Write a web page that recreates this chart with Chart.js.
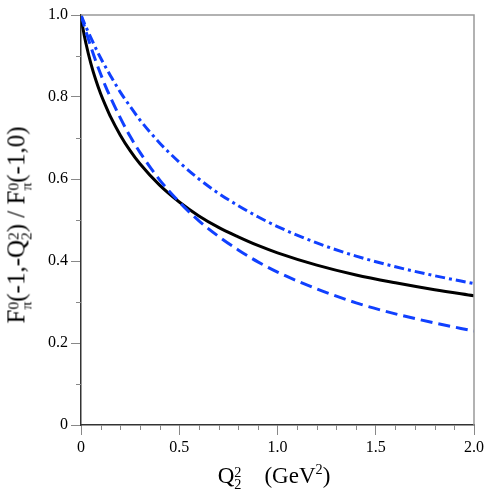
<!DOCTYPE html>
<html>
<head>
<meta charset="utf-8">
<script src="https://cdn.jsdelivr.net/npm/chart.js@4.4.0/dist/chart.umd.min.js"></script>
<style>
    body { margin: 0; background: #fff; }
    #wrap { position: relative; width: 499px; height: 499px; }
    .title { position: absolute; font-family: "Liberation Serif", "DejaVu Serif", serif; font-size: 23px; color: #000; white-space: nowrap; line-height: 1; }
    #ytitle { left: 18px; top: 225px; font-size: 25px; transform: translate(-50%, -50%) rotate(-90deg); }
    #xtitle { left: 274px; top: 477px; transform: translate(-50%, -50%); }
    .ss { display: inline-block; font-size: 0.62em; line-height: 0.85; vertical-align: -0.45em; text-align: left; }
    .ss span { display: block; }
    sup { font-size: 0.62em; vertical-align: 0.6em; line-height: 0; }
</style>
</head>
<body>
<div id="wrap">
    <canvas id="chart1" width="499" height="499"></canvas>
    <div class="title" id="ytitle">F<span class="ss"><span>0</span><span>π</span></span>(-1,-Q<span class="ss"><span>2</span><span>2</span></span>) / F<span class="ss"><span>0</span><span>π</span></span>(-1,0)</div>
    <div class="title" id="xtitle">Q<span class="ss"><span>2</span><span>2</span></span>&nbsp;&nbsp;&nbsp;&nbsp;(GeV<sup>2</sup>)</div>
</div>
<script>
// Q2^2 values (GeV^2)
const q2 = [0, 0.01, 0.025, 0.05, 0.075, 0.1, 0.125, 0.15, 0.2, 0.25, 0.3, 0.4, 0.5, 0.6, 0.7, 0.8, 0.9, 1.0, 1.2, 1.4, 1.6, 1.8, 2.0];
const solidCurve = [1.0, 0.967, 0.931, 0.882, 0.842, 0.808, 0.779, 0.752, 0.707, 0.669, 0.637, 0.585, 0.544, 0.510, 0.482, 0.459, 0.438, 0.420, 0.390, 0.366, 0.347, 0.330, 0.315];
const dashedCurve = [1.0, 0.984, 0.960, 0.923, 0.888, 0.856, 0.826, 0.799, 0.749, 0.704, 0.665, 0.598, 0.544, 0.498, 0.460, 0.427, 0.398, 0.373, 0.332, 0.298, 0.271, 0.249, 0.229];
const dashDotCurve = [1.0, 0.988, 0.971, 0.945, 0.919, 0.895, 0.873, 0.852, 0.812, 0.777, 0.744, 0.688, 0.641, 0.600, 0.565, 0.535, 0.508, 0.484, 0.444, 0.412, 0.386, 0.364, 0.345];

const xTickLabels = [0, 0.5, 1.0, 1.5, 2.0];
const yTickLabels = [0, 0.2, 0.4, 0.6, 0.8, 1.0];
const xMinor = [0.1, 0.2, 0.3, 0.4, 0.6, 0.7, 0.8, 0.9, 1.1, 1.2, 1.3, 1.4, 1.6, 1.7, 1.8, 1.9];
const yMinor = [0.1, 0.3, 0.5, 0.7, 0.9];

const blue = "#1040ff";
const toPoints = ys => ys.map((y, i) => ({ x: q2[i], y: y }));

// minor ticks + grey top/right frame
const framePlugin = {
    id: "frame",
    afterDraw(chart) {
        const c = chart.ctx, a = chart.chartArea;
        const xs = chart.scales.x, ys = chart.scales.y;
        c.save();
        c.strokeStyle = "#888";
        c.lineWidth = 1;
        c.beginPath();
        xMinor.forEach(v => {
            const px = Math.round(xs.getPixelForValue(v)) + 0.5;
            c.moveTo(px, a.bottom); c.lineTo(px, a.bottom + 5);
        });
        yMinor.forEach(v => {
            const py = Math.round(ys.getPixelForValue(v)) + 0.5;
            c.moveTo(a.left, py); c.lineTo(a.left - 5, py);
        });
        c.stroke();
        c.strokeStyle = "#999";
        c.lineWidth = 1.5;
        c.beginPath();
        c.moveTo(a.left, a.top); c.lineTo(a.right, a.top); c.lineTo(a.right, a.bottom);
        c.stroke();
        c.restore();
    }
};

const ctx = document.getElementById("chart1");
new Chart(ctx, {
    type: "line",
    data: {
        datasets: [
            { data: toPoints(dashedCurve), borderColor: blue, borderWidth: 3, borderDash: [12, 6] },
            { data: toPoints(dashDotCurve), borderColor: blue, borderWidth: 3, borderDash: [10, 4, 3, 4] },
            { data: toPoints(solidCurve), borderColor: "#000", borderWidth: 3 }
        ]
    },
    options: {
        responsive: false,
        animation: false,
        events: [],
        layout: { padding: { left: 0, top: 15, right: 25, bottom: 0 } },
        elements: { point: { radius: 0 }, line: { cubicInterpolationMode: "monotone", fill: false } },
        plugins: { legend: { display: false }, tooltip: { enabled: false } },
        scales: {
            x: {
                type: "linear", min: 0, max: 2,
                afterFit: s => { s.height = 74; },
                afterBuildTicks: s => { s.ticks = xTickLabels.map(v => ({ value: v })); },
                border: { color: "#333", width: 1.5 },
                grid: { drawOnChartArea: false, tickLength: 10, tickColor: "#888", tickWidth: 1 },
                ticks: {
                    padding: 3, color: "#000", maxRotation: 0,
                    font: { family: "Liberation Serif", size: 16 },
                    callback: v => v === 0 ? "0" : v.toFixed(1)
                }
            },
            y: {
                type: "linear", min: 0, max: 1,
                afterFit: s => { s.width = 81; },
                afterBuildTicks: s => { s.ticks = yTickLabels.map(v => ({ value: v })); },
                border: { color: "#333", width: 1.5 },
                grid: { drawOnChartArea: false, tickLength: 10, tickColor: "#888", tickWidth: 1 },
                ticks: {
                    padding: 3, color: "#000",
                    font: { family: "Liberation Serif", size: 16 },
                    callback: v => v === 0 ? "0" : v.toFixed(1)
                }
            }
        }
    },
    plugins: [framePlugin]
});
</script>
</body>
</html>
